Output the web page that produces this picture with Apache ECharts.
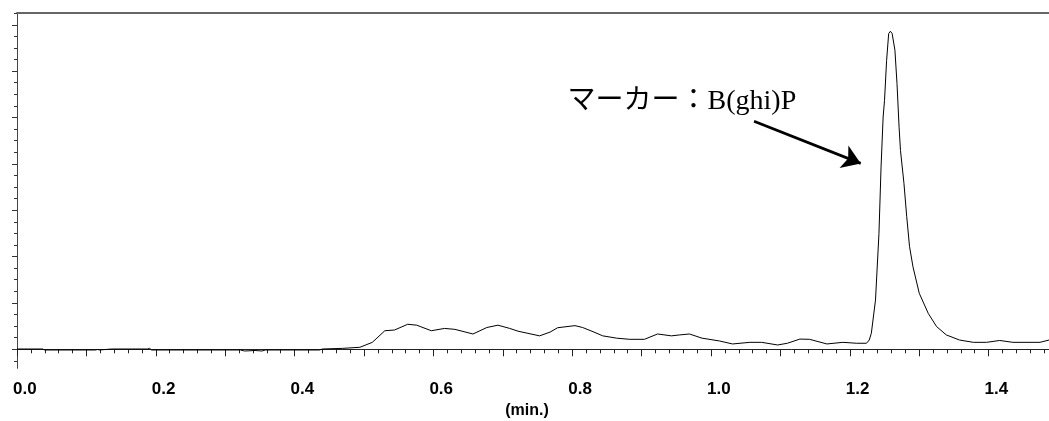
<!DOCTYPE html>
<html>
<head>
<meta charset="utf-8">
<script src="https://cdn.jsdelivr.net/npm/echarts@6/dist/echarts.min.js"></script>
<style>
  html, body { margin: 0; padding: 0; background: #fff; }
  #main { width: 1049px; height: 421px; }
</style>
</head>
<body>
<div id="main"></div>
<script>
// retention time (min.)
var times = [0.000, 0.037, 0.040, 0.113, 0.116, 0.119, 0.136, 0.188, 0.191, 0.194,
    0.322, 0.328, 0.343, 0.353, 0.358, 0.436, 0.440, 0.469, 0.494, 0.512,
    0.530, 0.544, 0.563, 0.576, 0.597, 0.616, 0.631, 0.657, 0.677, 0.693,
    0.710, 0.722, 0.753, 0.768, 0.779, 0.804, 0.815, 0.830, 0.844, 0.864,
    0.883, 0.904, 0.923, 0.943, 0.955, 0.969, 0.987, 1.012, 1.031, 1.056,
    1.073, 1.096, 1.110, 1.128, 1.142, 1.167, 1.190, 1.210, 1.224, 1.228,
    1.231, 1.237, 1.242, 1.245, 1.248, 1.250, 1.253, 1.256, 1.2585, 1.261,
    1.265, 1.268, 1.271, 1.273, 1.278, 1.282, 1.286, 1.291, 1.300, 1.313,
    1.325, 1.339, 1.358, 1.378, 1.397, 1.416, 1.435, 1.474, 1.487];
// detector response (arbitrary units)
var signal = [0.06, 0.06, -0.15, -0.15, -0.04, -0.15, 0.06, 0.06, 0.2, -0.15,
    -0.15, -0.37, -0.26, -0.37, -0.15, -0.15, 0.06, 0.2, 0.43, 1.5,
    4.0, 4.16, 5.4, 5.2, 4.0, 4.5, 4.3, 3.3, 4.7, 5.2,
    4.5, 3.9, 2.9, 3.7, 4.65, 5.1, 4.7, 3.8, 2.9, 2.4,
    2.15, 2.15, 3.3, 2.9, 3.1, 3.3, 2.4, 1.8, 1.15, 1.5,
    1.5, 0.93, 1.3, 2.2, 2.15, 1.15, 1.5, 1.3, 1.3, 2.0,
    3.45, 10.6, 25.0, 39.3, 50.1, 53.7, 62.3, 68.1, 68.6, 68.1,
    64.5, 57.3, 47.9, 42.9, 35.8, 28.6, 22.2, 17.8, 12.1, 7.75,
    4.9, 3.1, 2.0, 1.5, 1.5, 1.9, 1.5, 1.5, 2.0];

var xTickLabels = [0.0, 0.2, 0.4, 0.6, 0.8, 1.0, 1.2, 1.4];
var yMajorTicks = [0, 10, 20, 30, 40, 50, 60, 70];

var markerText = 'マーカー：B(ghi)P';
var markerTextAt = [0.958, 53.5];
var arrowFrom = [1.062, 49.2];
var arrowTo = [1.2157, 40.1];

var points = times.map(function (t, i) { return [t, signal[i]]; });

var myChart = echarts.init(document.getElementById('main'));
var option = {
    animation: false,
    backgroundColor: '#fff',
    grid: {
        left: 17,
        right: 0,
        top: 12.7,
        bottom: 52.7,
        containLabel: false,
        outerBoundsMode: 'none'
    },
    xAxis: [{
        type: 'value',
        min: 0,
        max: 1.487,
        interval: 0.1,
        axisLine: { lineStyle: { color: '#222', width: 1 } },
        axisTick: { length: 7, lineStyle: { color: '#222', width: 1 } },
        minorTick: { show: true, splitNumber: 5, length: 4, lineStyle: { color: '#222', width: 1 } },
        splitLine: { show: false },
        axisLabel: {
            customValues: xTickLabels,
            align: 'left',
            margin: 13,
            color: '#000',
            fontSize: 17,
            fontWeight: 'bold',
            fontFamily: 'Liberation Sans, Arial, sans-serif',
            padding: [0, 0, 0, -4],
            formatter: function (v) {
                var k = Math.round(v / 0.2);
                return Math.abs(v - k * 0.2) < 1e-6 ? v.toFixed(1) : '';
            }
        }
    }, {
        type: 'value',
        position: 'top',
        min: 0,
        max: 1.487,
        axisLine: { show: true, lineStyle: { color: '#666', width: 2 } },
        axisTick: { show: false },
        axisLabel: { show: false },
        splitLine: { show: false }
    }],
    yAxis: {
        type: 'value',
        min: -4.1,
        max: 72.6,
        splitNumber: 8,
        axisLine: { show: true, lineStyle: { color: '#444', width: 1 } },
        axisTick: { show: true, customValues: yMajorTicks, length: 5, lineStyle: { color: '#333' } },
        minorTick: { show: true, splitNumber: 4, length: 3, lineStyle: { color: '#333' } },
        axisLabel: { show: false },
        splitLine: { show: false }
    },
    series: [{
        type: 'line',
        data: points,
        symbol: 'none',
        smooth: false,
        lineStyle: { color: '#000', width: 1 },
        emphasis: { disabled: true },
        markPoint: {
            silent: true,
            symbolSize: 0,
            label: {
                show: true,
                position: 'inside',
                color: '#000',
                fontSize: 28,
                fontFamily: 'Liberation Serif, Noto Sans CJK JP, serif',
                formatter: markerText
            },
            data: [{ coord: markerTextAt }]
        },
        markLine: {
            silent: true,
            symbol: ['none', 'arrow'],
            symbolSize: 18,
            label: { show: false },
            lineStyle: { color: '#000', width: 2.7, type: 'solid' },
            itemStyle: { color: '#000' },
            emphasis: { disabled: true },
            data: [[{ coord: arrowFrom }, { coord: arrowTo }]]
        }
    }],
    graphic: [{
        type: 'text',
        x: 527,
        y: 411,
        style: {
            text: '(min.)',
            align: 'center',
            verticalAlign: 'middle',
            fill: '#000',
            font: 'bold 16px "Liberation Sans", Arial, sans-serif'
        }
    }]
};
myChart.setOption(option);
</script>
</body>
</html>
